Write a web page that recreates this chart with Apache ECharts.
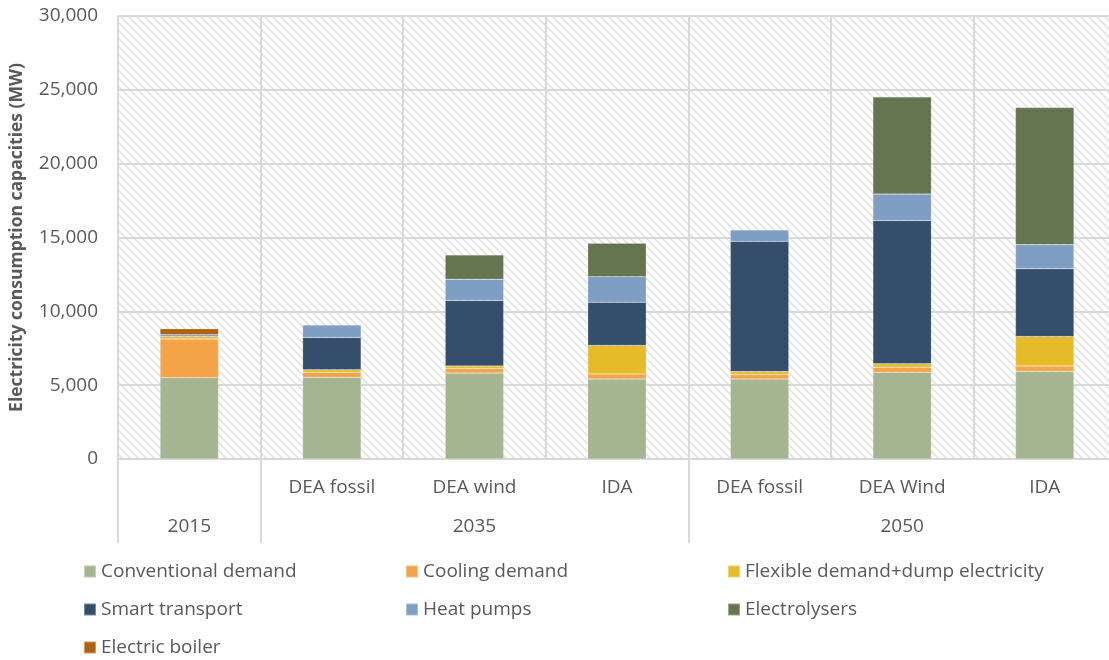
<!DOCTYPE html>
<html>
<head>
<meta charset="utf-8">
<script src="https://cdn.jsdelivr.net/npm/echarts@6/dist/echarts.min.js"></script>
<style>
  html, body { margin: 0; padding: 0; background: #fff; }
  #main { width: 1109px; height: 660px; }
</style>
</head>
<body>
<div id="main"></div>
<script>
// sub-category labels and the year row below them
var scenarios = ['', 'DEA fossil', 'DEA wind', 'IDA', 'DEA fossil', 'DEA Wind', 'IDA']
var years = ['2015', '', '2035', '', '', '2050', '']
// index of the first scenario of each year, for the separator ticks
var yearStarts = [0, 1, 4]

// MW
var conventionalDemand = [5500, 5540, 5820, 5410, 5410, 5880, 5950]
var coolingDemand = [2620, 340, 310, 340, 310, 340, 340]
var flexibleDemand = [160, 160, 160, 1940, 200, 230, 2010]
var smartTransport = [0, 2190, 4450, 2920, 8820, 9700, 4580]
var heatPumps = [140, 840, 1440, 1740, 770, 1790, 1640]
var electrolysers = [0, 0, 1640, 2260, 0, 6580, 9280]
var electricBoiler = [400, 0, 0, 0, 0, 0, 0]

var yTicks = [0, 5000, 10000, 15000, 20000, 25000, 30000]

var seriesDefs = [
  { name: 'Conventional demand', data: conventionalDemand, color: '#a5b592' },
  { name: 'Cooling demand', data: coolingDemand, color: '#f3a447' },
  { name: 'Flexible demand+dump electricity', data: flexibleDemand, color: '#e6bb29' },
  { name: 'Smart transport', data: smartTransport, color: '#344e6c' },
  { name: 'Heat pumps', data: heatPumps, color: '#7f9ec3' },
  { name: 'Electrolysers', data: electrolysers, color: '#65754f' },
  { name: 'Electric boiler', data: electricBoiler, color: '#b0620e' }
]

// hatched plot background
function hatchTile() {
  var c = document.createElement('canvas')
  c.width = 8
  c.height = 8
  var ctx = c.getContext('2d')
  ctx.fillStyle = '#ffffff'
  ctx.fillRect(0, 0, 8, 8)
  ctx.strokeStyle = '#e4e4e4'
  ctx.lineWidth = 1.8
  ctx.beginPath()
  ctx.moveTo(-2, -2); ctx.lineTo(10, 10)
  ctx.moveTo(-2, 6); ctx.lineTo(2, 10)
  ctx.moveTo(6, -2); ctx.lineTo(10, 2)
  ctx.stroke()
  return c
}

var font = '"Open Sans", "Noto Sans", sans-serif'
var grey = '#595959'
var lineGrey = '#d9d9d9'

var myChart = echarts.init(document.getElementById('main'))

var legendText = { color: grey, fontSize: 19, fontFamily: font }
function legendCol(left, names) {
  return {
    orient: 'vertical',
    left: left,
    top: 562,
    padding: 0,
    itemWidth: 12,
    itemHeight: 12,
    itemGap: 19,
    icon: 'rect',
    selectedMode: false,
    textStyle: legendText,
    data: names
  }
}

var option = {
  animation: false,
  textStyle: { fontFamily: font },
  grid: {
    left: 118,
    right: -7,
    top: 16,
    bottom: 201,
    outerBoundsMode: 'none',
    containLabel: false,
    show: true,
    borderWidth: 0,
    backgroundColor: { image: hatchTile(), repeat: 'repeat' }
  },
  legend: [
    legendCol(83, ['Conventional demand', 'Smart transport', 'Electric boiler']),
    legendCol(405, ['Cooling demand', 'Heat pumps']),
    legendCol(727, ['Flexible demand+dump electricity', 'Electrolysers'])
  ],
  xAxis: [
    {
      type: 'category',
      data: scenarios,
      axisLine: { lineStyle: { color: lineGrey, width: 2 } },
      axisTick: {
        show: true,
        length: 84,
        interval: function (index) { return yearStarts.indexOf(index) >= 0 },
        lineStyle: { color: lineGrey, width: 2 }
      },
      splitLine: { show: true, interval: 0, lineStyle: { color: lineGrey, width: 2 } },
      axisLabel: { interval: 0, margin: 19, color: grey, fontSize: 19, fontFamily: font }
    },
    {
      type: 'category',
      data: years,
      position: 'bottom',
      axisLine: { show: false },
      axisTick: { show: false },
      axisLabel: { interval: 0, margin: 58, color: grey, fontSize: 19, fontFamily: font }
    }
  ],
  yAxis: {
    type: 'value',
    min: yTicks[0],
    max: yTicks[yTicks.length - 1],
    interval: yTicks[1] - yTicks[0],
    name: 'Electricity consumption capacities (MW)',
    nameLocation: 'middle',
    nameGap: 92,
    nameTextStyle: { color: grey, fontSize: 17.5, fontWeight: 'bold', fontFamily: font },
    axisLine: { show: false },
    axisTick: { show: false },
    splitLine: { lineStyle: { color: lineGrey, width: 2 } },
    axisLabel: {
      margin: 20,
      color: grey,
      fontSize: 19,
      fontFamily: font,
      formatter: function (v) { return v.toLocaleString('en-US') }
    }
  },
  series: seriesDefs.map(function (s) {
    return {
      name: s.name,
      type: 'bar',
      stack: 'total',
      barWidth: '41%',
      itemStyle: { color: s.color, borderColor: 'rgba(255,255,255,0.35)', borderWidth: 0.5 },
      data: s.data.map(function (v) { return v === 0 ? null : v })
    }
  })
}

myChart.setOption(option)
</script>
</body>
</html>
